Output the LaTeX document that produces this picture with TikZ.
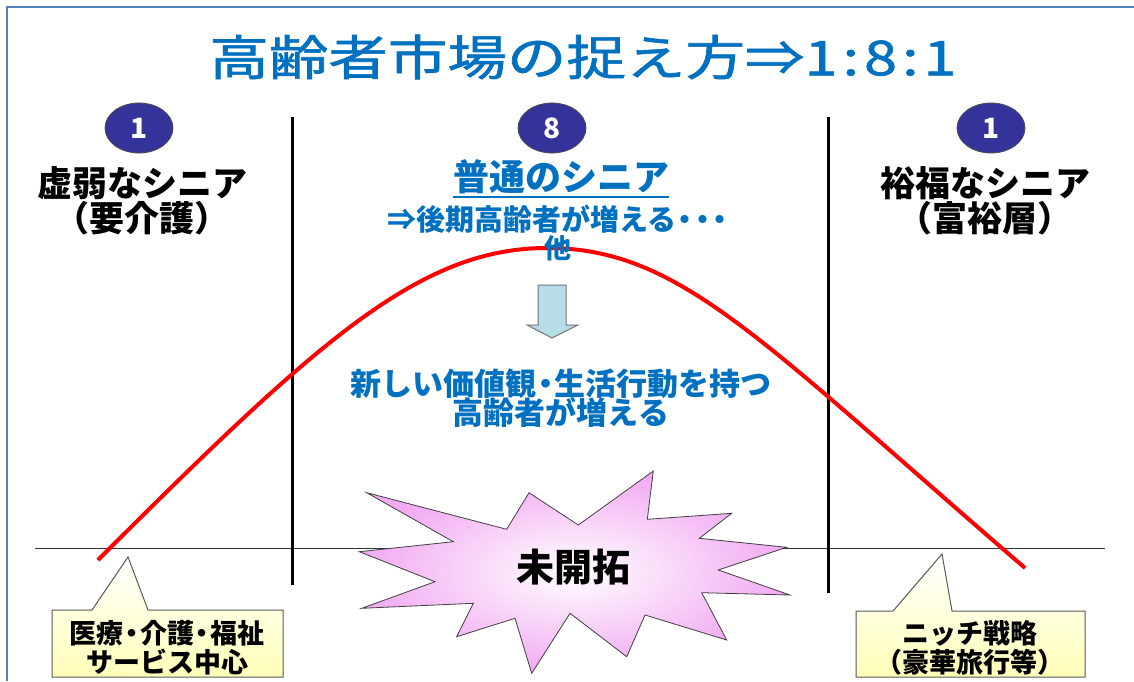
\documentclass[tikz,border=0pt]{standalone}
\usepackage{fontspec}
\newfontfamily\jp{Noto Sans CJK JP}
\newfontfamily\jpt{Noto Sans CJK JP}[FakeBold=1.2]
\newcommand\halfdot{\makebox[0.6em][c]{・}}
\usetikzlibrary{shapes.geometric}
\definecolor{titleblue}{RGB}{0,112,192}
\definecolor{framebl}{RGB}{79,129,189}
\definecolor{navy}{RGB}{51,51,153}
\definecolor{arrowfill}{RGB}{183,222,232}
\definecolor{starpink}{RGB}{242,170,242}
\definecolor{callyellow}{RGB}{255,255,185}
\begin{document}
\begin{tikzpicture}[x=1pt,y=-1pt,
  every node/.style={font=\jp, inner sep=0pt},
  numcirc/.style={ellipse, fill=navy, draw=black!70, line width=0.8pt, minimum width=68pt, minimum height=50pt, text=white, font=\jp\bfseries\fontsize{28}{30}\selectfont},
  grouplabel/.style={align=center, text=black, font=\jp\bfseries\fontsize{35}{35}\selectfont},
  bluetext/.style={align=center, text=titleblue, font=\jp\bfseries\fontsize{#1}{#1}\selectfont},
  callbox/.style={draw=black!65, line width=1pt, top color=white, bottom color=callyellow},
  calltext/.style={align=center, text=black, font=\jp\bfseries\fontsize{27}{29}\selectfont},
  divider/.style={draw=black, line width=3pt}
]
\useasboundingbox (0,0) rectangle (1134,681);
\fill[white] (0,0) rectangle (1134,681);
% frame
\draw[framebl, line width=2.5pt] (7,681) -- (7,7) -- (1134,7);

% title
\node[text=titleblue, font=\jpt\fontsize{48}{52}\selectfont] (title) at (583,57)
  {\scalebox{1.24}[1]{高齢者市場の捉え方⇒1\kern4pt:\kern4pt8\kern4pt:\kern4pt1}};

% axis line and dividers
\coordinate (axL) at (35,548);
\coordinate (axR) at (1105,548);
\draw[black!80, line width=0.9pt] (axL) -- (axR);
\coordinate (d1t) at (292,117);
\coordinate (d1b) at (292,585);
\coordinate (d2t) at (828,117);
\coordinate (d2b) at (828,593);
\draw[divider] (d1t) -- (d1b);
\draw[divider] (d2t) -- (d2b);

% red curve
\draw[red, line width=4pt] (98,560) .. controls (318,340) and (420,248) .. (547,248)
  .. controls (680,248) and (760,340) .. (1025,568);

% circles
\node[numcirc] (c1) at (139,128) {1};
\node[numcirc] (c8) at (552,128) {8};
\node[numcirc] (c2) at (991,128) {1};

% group labels
\node[grouplabel] (weak) at (142,201) {虚弱なシニア\\（要介護）};
\node[grouplabel] (rich) at (985,201) {裕福なシニア\\（富裕層）};

% middle texts
\node[bluetext=36] (ord) at (561,177) {普通のシニア};
\draw[titleblue, line width=1.8pt] ([yshift=-3pt]ord.south west) -- ([yshift=-3pt]ord.south east);
\node[bluetext=29] (late) at (558,219) {⇒後期高齢者が増える\halfdot\halfdot\halfdot};
\node[bluetext=27] (other) at (558,248) {他};

% down arrow
\draw[draw=black!55, fill=arrowfill, line width=1pt]
  (538,285) -- (566,285) -- (566,325) -- (578,325) -- (552,338) -- (527,325) -- (538,325) -- cycle;
\coordinate (arrowtip) at (552,338);

\node[bluetext=31, align=center] (newval) at (561,398)
  {新しい価値観\halfdot 生活行動を持つ\\[-2pt]高齢者が増える};

% starburst
\path[inner color=white, outer color=starpink, shading=radial]
  (366.7,492.7) -- (506.7,529.3) -- (529,492.7) -- (578.3,525) -- (653.3,471) -- (647.3,519.3)
  -- (731.7,513.3) -- (699.3,538.3) -- (786.7,547.3) -- (718.3,570) -- (790,595) -- (701.7,592.7)
  -- (726.7,640) -- (645,615) -- (626.7,656.7) -- (570,613.3) -- (531.7,673.3) -- (515,618.3)
  -- (456.7,636.7) -- (473.3,603.3) -- (361.7,608.3) -- (435,581.7) -- (359.3,551.7) -- (453.3,541.7) -- cycle;
\draw[black!75, line width=0.8pt]
  (366.7,492.7) -- (506.7,529.3) -- (529,492.7) -- (578.3,525) -- (653.3,471) -- (647.3,519.3)
  -- (731.7,513.3) -- (699.3,538.3) -- (786.7,547.3) -- (718.3,570) -- (790,595) -- (701.7,592.7)
  -- (726.7,640) -- (645,615) -- (626.7,656.7) -- (570,613.3) -- (531.7,673.3) -- (515,618.3)
  -- (456.7,636.7) -- (473.3,603.3) -- (361.7,608.3) -- (435,581.7) -- (359.3,551.7) -- (453.3,541.7) -- cycle;
\node[text=black, font=\jp\bfseries\fontsize{38}{40}\selectfont] (unexp) at (573,567) {未開拓};

% callouts
\path[callbox] (52,610) -- (92,610) -- (128,557) -- (148,610) -- (283,610) -- (283,677) -- (52,677) -- cycle;
\node[calltext] (callL) at (167,648) {医療\halfdot 介護\halfdot 福祉\\サービス中心};
\path[callbox] (856,611) -- (893,611) -- (942,554) -- (952,611) -- (1085,611) -- (1085,677) -- (856,677) -- cycle;
\node[calltext] (callR) at (970,648) {ニッチ戦略\\（豪華旅行等）};
\end{tikzpicture}
\end{document}
